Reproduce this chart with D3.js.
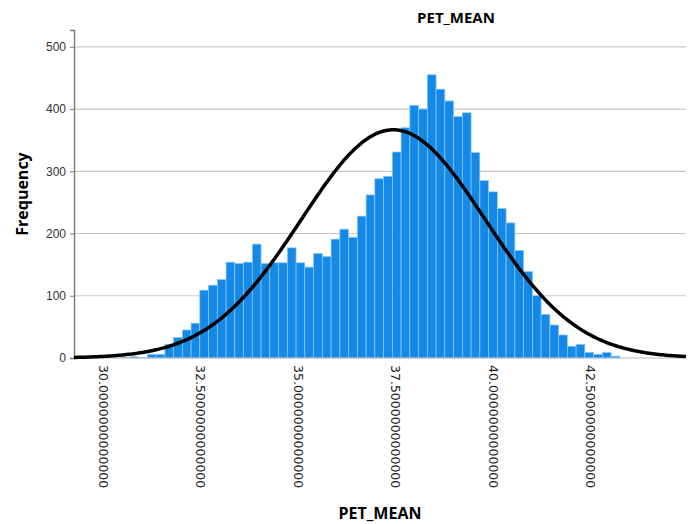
<!DOCTYPE html>
<html>
<head>
<meta charset="utf-8">
<script src="https://cdn.jsdelivr.net/npm/d3@7"></script>
<style>
  body { margin: 0; background: #fff; }
</style>
</head>
<body>
<div id="chart"></div>
<script>
// histogram of PET_MEAN, counts
let binStart = 30.457,
    binWidth = 0.2245;
let counts = [1, 2, 1, 6, 6, 22, 33, 45, 56, 109, 117, 126, 154, 152, 154, 183,
  152, 153, 153, 177, 153, 146, 168, 163, 191, 207, 194, 228, 262, 288, 292,
  331, 370, 406, 400, 455, 432, 413, 388, 394, 330, 285, 267, 240, 217, 173,
  139, 100, 70, 53, 37, 19, 22, 9, 6, 9, 3];
let xTicks = [30, 32.5, 35, 37.5, 40, 42.5];
let yTicks = [0, 100, 200, 300, 400, 500];
let curveMean = 37.44,
    curveSd = 2.36;

let width = 694,
    height = 524;

let svg = d3.select("#chart").append("svg")
    .attr("width", width)
    .attr("height", height)
    .style("font-family", "DejaVu Sans, sans-serif");

let x = d3.scaleLinear()
    .domain([29.25, 44.95])
    .range([74, 686]);

let y = d3.scaleLinear()
    .domain([0, 527])
    .range([358, 30]);

// gridlines
svg.append("g")
  .selectAll("line")
  .data(yTicks.filter(d => d > 0))
  .enter().append("line")
    .attr("x1", x.range()[0])
    .attr("x2", x.range()[1])
    .attr("y1", d => y(d))
    .attr("y2", d => y(d))
    .attr("stroke", "#c8c8c8")
    .attr("stroke-width", 1.2);

let bins = counts.map((c, i) => ({ x0: binStart + i * binWidth, x1: binStart + (i + 1) * binWidth, n: c }));

svg.append("g")
  .selectAll("rect")
  .data(bins)
  .enter().append("rect")
    .attr("x", d => x(d.x0))
    .attr("y", d => y(d.n))
    .attr("width", d => x(d.x1) - x(d.x0))
    .attr("height", d => y(0) - y(d.n))
    .attr("fill", "#1589e8")
    .attr("stroke", "#8ecbf6")
    .attr("stroke-width", 0.7);

// x axis line
svg.append("line")
    .attr("x1", x.range()[0]).attr("x2", x.range()[1])
    .attr("y1", y(0)).attr("y2", y(0))
    .attr("stroke", "#bbb")
    .attr("stroke-width", 1);

// y axis
let yAxis = svg.append("g")
    .attr("transform", "translate(" + x.range()[0] + ",0)")
    .call(d3.axisLeft(y).tickValues(yTicks).tickSize(4).tickPadding(4));
yAxis.select(".domain").attr("stroke", "#777").attr("stroke-width", 1.4);
yAxis.selectAll(".tick line").attr("stroke", "#777");
yAxis.selectAll("text")
    .attr("font-size", 12)
    .attr("fill", "#333");

// x tick labels, rotated
svg.append("g")
  .selectAll("text")
  .data(xTicks)
  .enter().append("text")
    .attr("transform", d => "translate(" + x(d) + ",365) rotate(90)")
    .attr("dy", "0.35em")
    .attr("font-size", 12.5)
    .attr("fill", "#222")
    .text(d => d3.format(".13f")(d));

// normal curve
let total = d3.sum(counts);
let normal = v => total * binWidth * Math.exp(-0.5 * Math.pow((v - curveMean) / curveSd, 2)) / (curveSd * Math.sqrt(2 * Math.PI));
let curvePts = d3.range(x.domain()[0], x.domain()[1] + 0.001, 0.05);

svg.append("path")
    .datum(curvePts)
    .attr("fill", "none")
    .attr("stroke", "#000")
    .attr("stroke-width", 3.5)
    .attr("d", d3.line().x(d => x(d)).y(d => y(normal(d))));

// titles
svg.append("text")
    .attr("x", 456).attr("y", 23)
    .attr("text-anchor", "middle")
    .attr("font-family", "Open Sans, sans-serif")
    .attr("font-weight", "bold")
    .attr("font-size", 15)
    .text("PET_MEAN");

svg.append("text")
    .attr("x", 380).attr("y", 519)
    .attr("text-anchor", "middle")
    .attr("font-family", "Open Sans, sans-serif")
    .attr("font-weight", "bold")
    .attr("font-size", 16)
    .text("PET_MEAN");

svg.append("text")
    .attr("transform", "translate(28,194) rotate(-90)")
    .attr("text-anchor", "middle")
    .attr("font-family", "Open Sans, sans-serif")
    .attr("font-weight", "bold")
    .attr("font-size", 16)
    .text("Frequency");
</script>
</body>
</html>
